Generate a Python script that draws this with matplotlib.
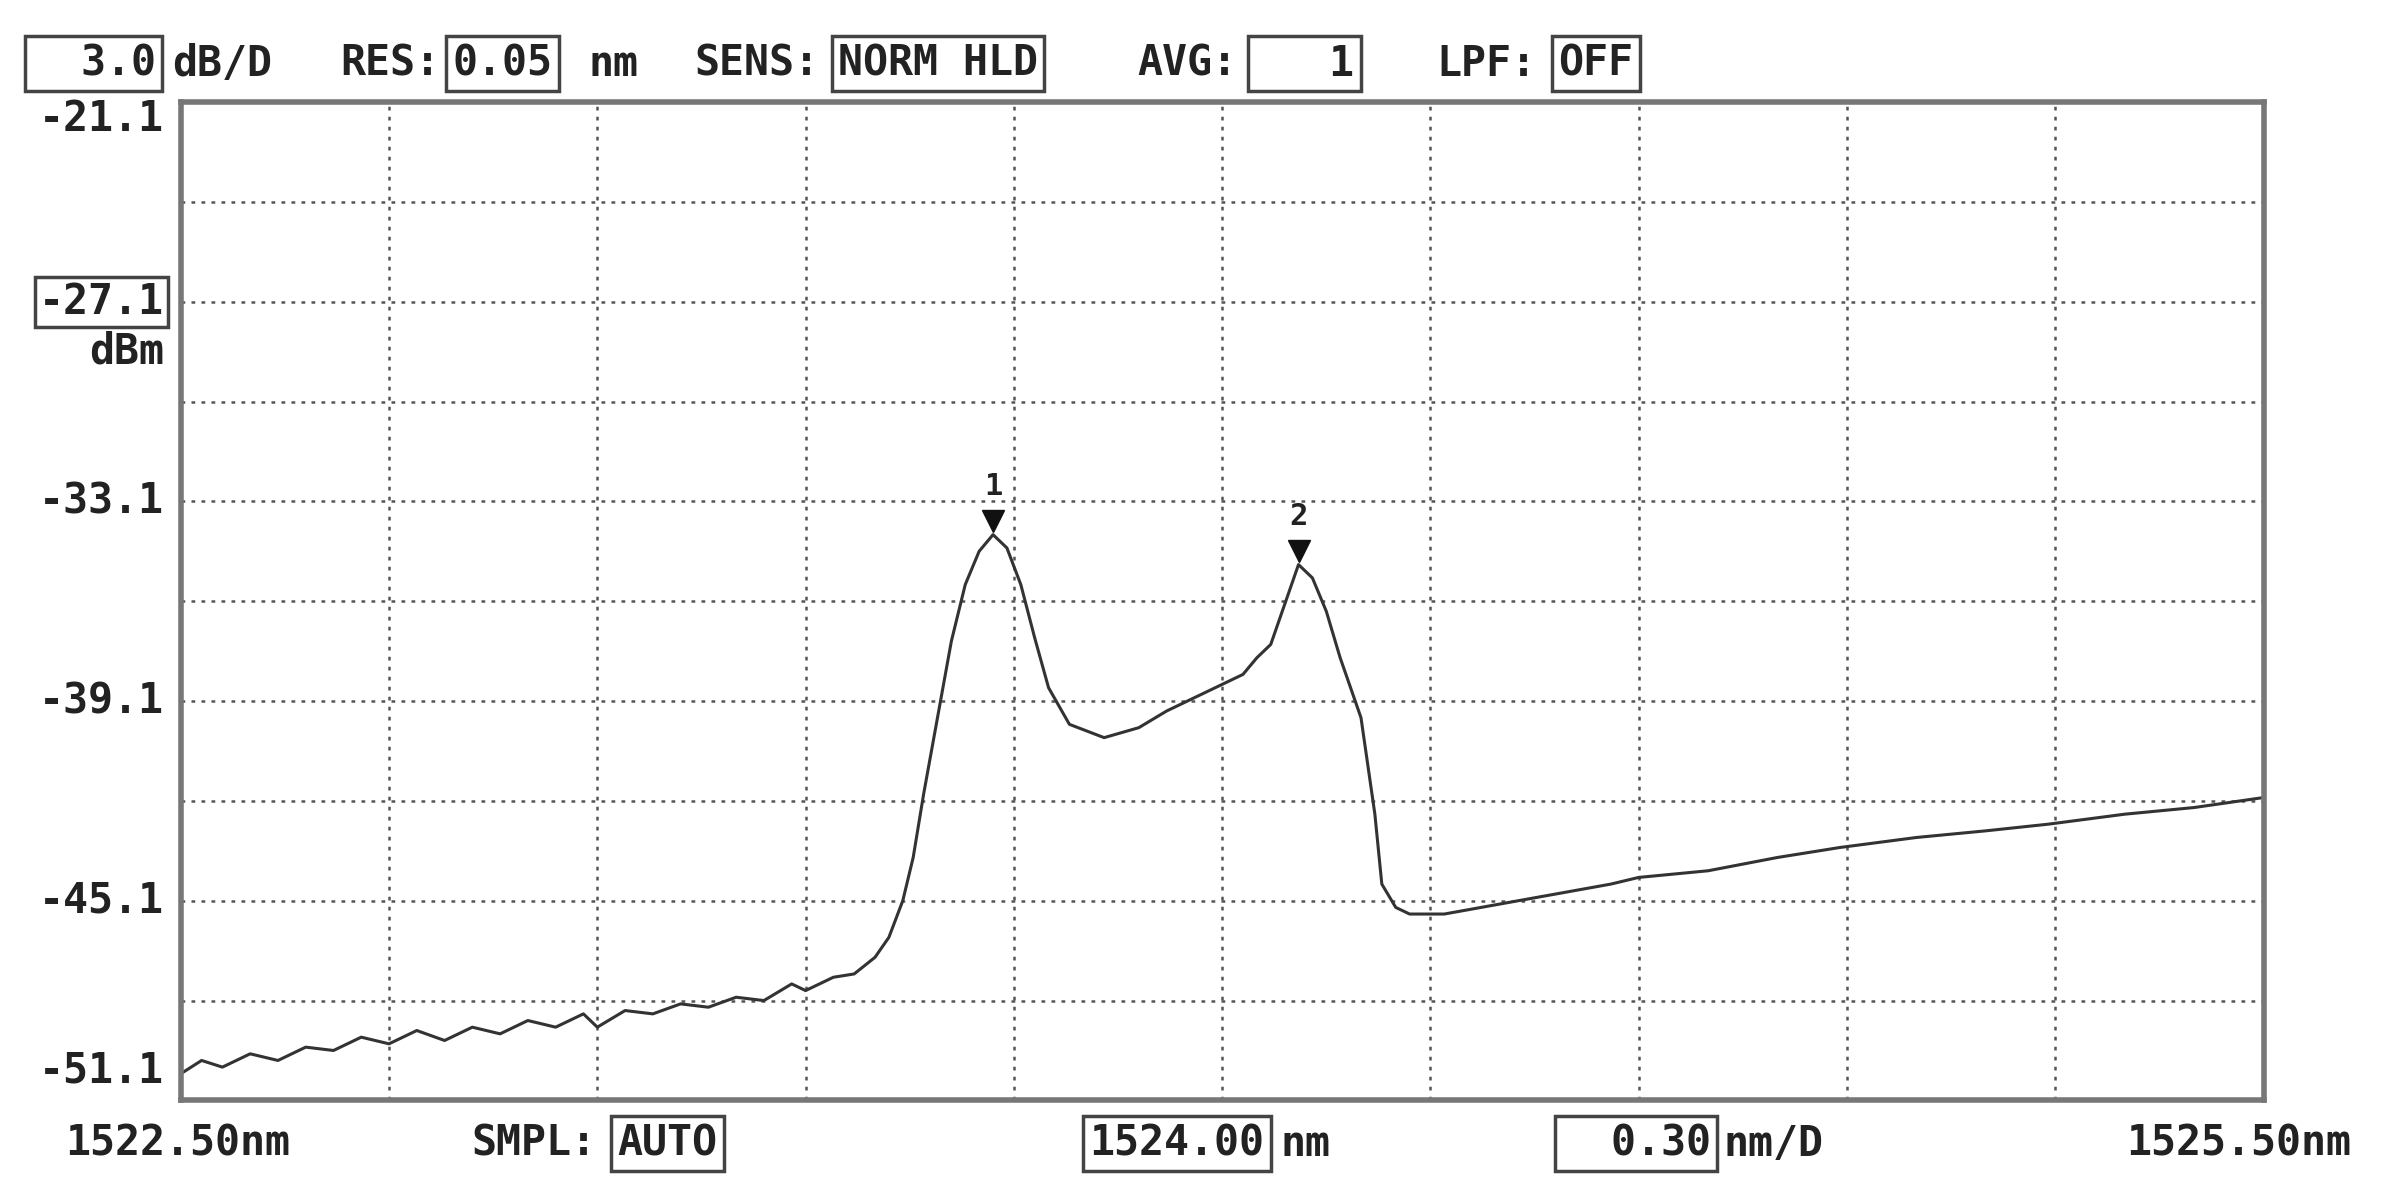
import matplotlib
matplotlib.use("Agg")
import matplotlib.pyplot as plt

wavelength = [1522.50,1522.53,1522.56,1522.60,1522.64,1522.68,1522.72,1522.76,1522.80,1522.84,1522.88,1522.92,
              1522.96,1523.00,1523.04,1523.08,1523.10,1523.14,1523.18,1523.22,1523.26,1523.30,1523.34,1523.38,
              1523.40,1523.44,1523.47,1523.50,1523.52,1523.54,1523.555,1523.57,1523.59,1523.61,1523.63,1523.65,
              1523.67,1523.69,1523.71,1523.73,1523.75,1523.78,1523.83,1523.88,1523.92,1523.96,1524.00,1524.03,
              1524.05,1524.07,1524.09,1524.11,1524.13,1524.15,1524.17,1524.20,1524.22,1524.23,1524.25,1524.27,
              1524.32,1524.40,1524.48,1524.56,1524.60,1524.70,1524.80,1524.89,1525.00,1525.10,1525.19,1525.30,
              1525.40,1525.50]
power_dbm = [-50.3,-49.9,-50.1,-49.7,-49.9,-49.5,-49.6,-49.2,-49.4,-49.0,-49.3,-48.9,
             -49.1,-48.7,-48.9,-48.5,-48.9,-48.4,-48.5,-48.2,-48.3,-48.0,-48.1,-47.6,
             -47.8,-47.4,-47.3,-46.8,-46.2,-45.1,-43.8,-41.9,-39.6,-37.3,-35.6,-34.6,
             -34.1,-34.5,-35.6,-37.2,-38.7,-39.8,-40.2,-39.9,-39.4,-39.0,-38.6,-38.3,
             -37.8,-37.4,-36.2,-35.0,-35.4,-36.4,-37.8,-39.6,-42.5,-44.6,-45.3,-45.5,
             -45.5,-45.2,-44.9,-44.6,-44.4,-44.2,-43.8,-43.5,-43.2,-43.0,-42.8,-42.5,
             -42.3,-42.0]
marker_x = [1523.67, 1524.11]
marker_y = [-34.1, -35.0]
marker_labels = ["1", "2"]
ytick_vals = [-51.1, -45.1, -39.1, -33.1, -27.1, -21.1]

FONT = dict(family="DejaVu Sans Mono", fontweight="bold", color="#222222")
fig = plt.figure(figsize=(23.94, 12), dpi=100)
ax = fig.add_axes([0.0755, 0.083, 0.870, 0.832])
ax.set_xlim(1522.5, 1525.5)
ax.set_ylim(-51.1, -21.1)
ax.set_xticks([1522.5 + 0.3*i for i in range(11)])
ax.set_yticks([-51.1 + 3*i for i in range(11)])
ax.tick_params(length=0, labelbottom=False, labelleft=False)
ax.grid(True, color="#555555", linestyle=(0, (1.5, 2.5)), linewidth=1.8)
for s in ax.spines.values():
    s.set_color("#777777"); s.set_linewidth(4)
ax.plot(wavelength, power_dbm, color="#333333", linewidth=2.2)
ax.plot(marker_x, [y + 0.4 for y in marker_y], "v", color="#111111", markersize=16)
for x, y, l in zip(marker_x, marker_y, marker_labels):
    ax.text(x, y + 1.0, l, ha="center", va="bottom", fontsize=22, **FONT)

for v in ytick_vals:
    pos = v
    if v == -21.1:
        pos = -21.6
    elif v == -51.1:
        pos = -50.2
    t = ax.text(-0.008, (pos + 51.1) / 30, f"{v:.1f}", transform=ax.transAxes, ha="right", va="center",
                fontsize=30, **FONT)
    if v == -27.1:
        t.set_bbox(dict(boxstyle="square,pad=0.1", fc="white", ec="#444444", lw=2.5))
ax.text(-0.008, (-28.6 + 51.1) / 30, "dBm", transform=ax.transAxes, ha="right", va="center", fontsize=30, **FONT)

box = dict(boxstyle="square,pad=0.15", fc="white", ec="#444444", lw=2.5)
top_y = 0.947
fig.text(0.013, top_y, "  3.0", ha="left", va="center", fontsize=30, bbox=box, **FONT)
fig.text(0.072, top_y, "dB/D", ha="left", va="center", fontsize=30, **FONT)
fig.text(0.142, top_y, "RES:", ha="left", va="center", fontsize=30, **FONT)
fig.text(0.189, top_y, "0.05", ha="left", va="center", fontsize=30, bbox=box, **FONT)
fig.text(0.246, top_y, "nm", ha="left", va="center", fontsize=30, **FONT)
fig.text(0.290, top_y, "SENS:", ha="left", va="center", fontsize=30, **FONT)
fig.text(0.350, top_y, "NORM HLD", ha="left", va="center", fontsize=30, bbox=box, **FONT)
fig.text(0.475, top_y, "AVG:", ha="left", va="center", fontsize=30, **FONT)
fig.text(0.524, top_y, "   1", ha="left", va="center", fontsize=30, bbox=box, **FONT)
fig.text(0.600, top_y, "LPF:", ha="left", va="center", fontsize=30, **FONT)
fig.text(0.651, top_y, "OFF", ha="left", va="center", fontsize=30, bbox=box, **FONT)

bot_y = 0.047
fig.text(0.027, bot_y, "1522.50nm", ha="left", va="center", fontsize=30, **FONT)
fig.text(0.197, bot_y, "SMPL:", ha="left", va="center", fontsize=30, **FONT)
fig.text(0.258, bot_y, "AUTO", ha="left", va="center", fontsize=30, bbox=box, **FONT)
fig.text(0.455, bot_y, "1524.00", ha="left", va="center", fontsize=30, bbox=box, **FONT)
fig.text(0.535, bot_y, "nm", ha="left", va="center", fontsize=30, **FONT)
fig.text(0.652, bot_y, "  0.30", ha="left", va="center", fontsize=30, bbox=box, **FONT)
fig.text(0.720, bot_y, "nm/D", ha="left", va="center", fontsize=30, **FONT)
fig.text(0.888, bot_y, "1525.50nm", ha="left", va="center", fontsize=30, **FONT)

fig.savefig("out.png", dpi=100, facecolor="white")
